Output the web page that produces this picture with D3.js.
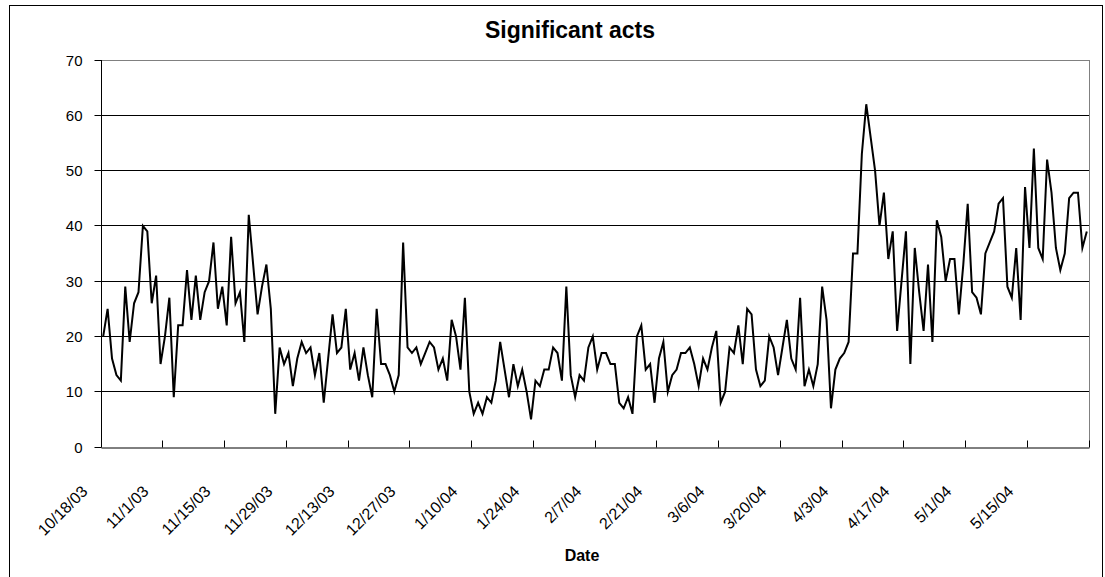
<!DOCTYPE html>
<html><head><meta charset="utf-8">
<script src="https://cdn.jsdelivr.net/npm/d3@7"></script>
<style>
body{margin:0;background:#fff}
text{font-family:"Liberation Sans",Arial,sans-serif;fill:#000}
</style>
</head><body><svg id="c" width="1105" height="577"></svg>
<script>
// ---- data ----
const startDate = "2003-10-18";
const values = [
20,25,16,13,12,29,19,26,28,40,39,26,31,15,20,27,9,22,22,32,23,31,23,28,30,37,25,29,22,38,26,28,19,42,33,24,29,33,25,6,18,15,17,
11,16,19,17,18,13,17,8,16,24,17,18,25,14,17,12,18,13,9,25,15,15,13,10,13,37,18,17,18,15,17,19,18,14,16,12,23,20,14,27,10,6,8,
6,9,8,12,19,14,9,15,11,14,10,5,12,11,14,14,18,17,12,29,13,9,13,12,18,20,14,17,17,15,15,8,7,9,6,20,22,14,15,8,16,19,10,
13,14,17,17,18,15,11,16,14,18,21,8,10,18,17,22,15,25,24,14,11,12,20,18,13,18,23,16,14,27,11,14,11,15,29,23,7,14,16,17,19,35,35,
53,62,56,50,40,46,34,39,21,30,39,15,36,28,21,33,19,41,38,30,34,34,24,33,44,28,27,24,35,37,39,44,45,29,27,36,23,47,36,54,36,34,52,46,36,32,35,45,46,46,36,39
];
const tickLabels = ["10/18/03","11/1/03","11/15/03","11/29/03","12/13/03","12/27/03","1/10/04","1/24/04",
  "2/7/04","2/21/04","3/6/04","3/20/04","4/3/04","4/17/04","5/1/04","5/15/04"];
const tickEvery = 14;
const yTicks = [0,10,20,30,40,50,60,70];
const chartTitle = "Significant acts";
const xTitle = "Date";

// ---- layout ----
const L = 101, R = 1089, T = 60, B = 447;
const svg = d3.select("#c");
const start = d3.timeParse("%Y-%m-%d")(startDate);
const dates = d3.timeDay.range(start, d3.timeDay.offset(start, values.length));

const x = d3.scaleBand().domain(d3.range(values.length)).range([L, R]).padding(0);
const xi = d3.scaleLinear().domain([0, values.length]).range([L, R]); // category boundaries
const y = d3.scaleLinear().domain([0, 70]).range([B, T]);
const crisp = v => Math.round(v - 0.5) + 0.5;

// outer chart border
svg.append("rect").attr("x", 9.5).attr("y", 5.5).attr("width", 1093).attr("height", 620)
  .attr("fill", "none").attr("stroke", "#000").attr("stroke-width", 1);

// gridlines
svg.append("g").selectAll("line").data(yTicks.filter(v => v > 0 && v < 70)).join("line")
  .attr("x1", L).attr("x2", R).attr("y1", d => crisp(y(d))).attr("y2", d => crisp(y(d)))
  .attr("stroke", "#000").attr("stroke-width", 1);

// plot area border (top / right) in gray
svg.append("line").attr("x1", L).attr("x2", R + 0.5).attr("y1", crisp(y(70))).attr("y2", crisp(y(70)))
  .attr("stroke", "#808080");
svg.append("line").attr("x1", crisp(R)).attr("x2", crisp(R)).attr("y1", T).attr("y2", B)
  .attr("stroke", "#808080");

// y axis
const yAxis = svg.append("g").attr("transform", `translate(${crisp(L)},0)`)
  .call(d3.axisLeft(y).tickValues(yTicks).tickSize(7).tickPadding(12).tickFormat(d3.format("d")));
yAxis.selectAll("path").attr("stroke", "#000").attr("d", `M0,${T}V${B}`);
yAxis.selectAll(".tick line").attr("stroke", "#000");
yAxis.selectAll(".tick").attr("transform", d => `translate(0,${crisp(y(d))})`);
yAxis.selectAll("text").attr("font-size", 15).attr("font-family", '"Liberation Sans",Arial,sans-serif').attr("dy", "0.36em");

// x axis (ticks inward, between categories)
const xTickIdx = d3.range(0, values.length + 1, tickEvery);
const xAxis = svg.append("g").attr("transform", `translate(0,${crisp(B)})`)
  .call(d3.axisBottom(xi).tickValues(xTickIdx).tickSize(-7).tickSizeOuter(0)
    .tickFormat(d => tickLabels[d / tickEvery] || ""));
xAxis.selectAll("path").attr("stroke", "#000");
xAxis.selectAll(".tick").attr("transform", d => `translate(${crisp(xi(d))},0)`);
xAxis.selectAll(".tick line").attr("stroke", "#000");
xAxis.selectAll("text")
  .attr("font-size", 16).attr("font-family", '"Liberation Sans",Arial,sans-serif')
  .attr("text-anchor", "end").attr("dy", null).attr("y", null)
  .attr("transform", "translate(-13,45) rotate(-45)");

// line
const line = d3.line().x((d, i) => x(i) + x.bandwidth() / 2).y(d => y(d));
svg.append("path").datum(values).attr("d", line)
  .attr("fill", "none").attr("stroke", "#000").attr("stroke-width", 2)
  .attr("stroke-linejoin", "miter").attr("stroke-miterlimit", 6);

// titles
svg.append("text").attr("x", 570).attr("y", 38).attr("text-anchor", "middle")
  .attr("font-size", 23).attr("font-weight", "bold").text(chartTitle);
svg.append("text").attr("x", 582).attr("y", 561).attr("text-anchor", "middle")
  .attr("font-size", 16).attr("font-weight", "bold").text(xTitle);
</script>
</body></html>
